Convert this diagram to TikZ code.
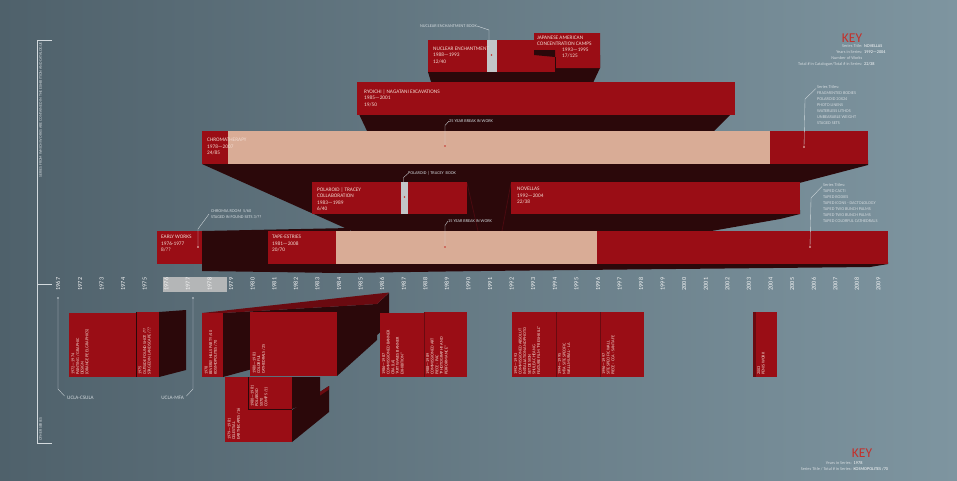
\documentclass[tikz,border=0pt]{standalone}
\usepackage{fontspec}
\setmainfont{Carlito}
\definecolor{bgL}{HTML}{4F616B}
\definecolor{bgR}{HTML}{7E95A0}
\definecolor{barred}{HTML}{9A0D15}
\definecolor{dk}{HTML}{2B080A}
\definecolor{raydk}{HTML}{4A0A10}
\definecolor{pinkb}{HTML}{D9AC96}
\definecolor{midred}{HTML}{6A0A10}
\definecolor{lbl}{HTML}{D3DADE}
\definecolor{btxt}{HTML}{F2DCD2}
\definecolor{keyred}{HTML}{C4302B}
\definecolor{strip}{HTML}{C3C6C8}
\definecolor{yrbox}{HTML}{B4B6B7}
\tikzset{
 bartxt/.style={font=\fontsize{5.3}{6.5}\selectfont, text=btxt, align=left, anchor=north west, inner sep=0pt},
 note/.style={font=\fontsize{4.3}{6}\selectfont, text=lbl, align=left, anchor=west, inner sep=0pt},
 notenw/.style={font=\fontsize{4.3}{6}\selectfont, text=lbl, align=left, anchor=north west, inner sep=0pt},
 vtxt/.style={font=\fontsize{4.3}{4.6}\selectfont, text=btxt, align=left, rotate=90, anchor=north west, inner sep=0pt},
 yr/.style={font=\fontsize{6.2}{6.2}\selectfont, text=white!92!gray, rotate=90, inner sep=0pt},
 lead/.style={draw=lbl, line width=0.35pt},
 dotm/.style={fill=#1, circle, inner sep=0pt, minimum size=1.7pt},
 keylab/.style={font=\fontsize{4.3}{6}\selectfont, text=lbl, anchor=east, inner sep=0pt},
 keyval/.style={font=\fontsize{4.3}{6}\selectfont, text=white, anchor=west, inner sep=0pt},
}
\begin{document}
\begin{tikzpicture}[x=1pt,y=-1pt]
\useasboundingbox (0,0) rectangle (957,480);
\shade[left color=bgL,right color=bgR] (0,0) rectangle (957,480);

% ---------------- upper section ----------------
% nuclear / japanese extrusion
\fill[dk] (428,60) -- (600,55) -- (600,68) -- (592,85) -- (432,85) -- (428,72) -- cycle;
\fill[barred] (428,40) rectangle (555,72);
\fill[strip] (487,40) rectangle (497,72);
\fill[barred] (534,33) -- (600,33) -- (600,68) -- (555,68) -- (555,50) -- (534,50) -- cycle;
\fill[dk] (534,50) -- (555,50) -- (555,57) -- (534,55) -- cycle;
\draw[dk, line width=0.4pt] (555,57) -- (555,72);
\node[bartxt] (ne) at (433,46.5) {NUCLEAR ENCHANTMENT\\1988—1993\\12/40};
\node[bartxt] (ja1) at (537,35.5) {JAPANESE AMERICAN\\CONCENTRATION CAMPS};
\node[bartxt] (ja2) at (562,47.5) {1993—1995\\17/125};
\node[dotm=keyred] (nedot) at (491.5,55) {};
\node[note] (nebook) at (420,26) {NUCLEAR ENCHANTMENT BOOK};
\coordinate (nes) at (489,40);
\draw[lead] (nebook.east) -- (489,30) -- (nes);

% Ryoichi
\fill[dk] (357,110) -- (735,110) -- (712,133) -- (368,133) -- cycle;
\fill[barred] (357,82) rectangle (735,115);
\node[bartxt] (ry) at (364,89) {RYOICHI | NAGATANI EXCAVATIONS\\1985—2001\\19/50};

% Chromatherapy extrusion and Novellas extrusion
\fill[dk] (202,160) -- (868,160) -- (868,165) -- (780,188) -- (700,232) -- (354,232) -- (202,164) -- cycle;
\fill[dk] (511,210) -- (800,210) -- (800,214) -- (780,219) -- (700,233) -- (520,233) -- cycle;
\draw[raydk, line width=0.8pt] (467,183) -- (478,231);
\draw[raydk, line width=0.8pt] (511,183) -- (502,231);
% Chromatherapy front
\fill[barred] (202,131) rectangle (228,164);
\fill[pinkb] (228,131) rectangle (770,164);
\fill[barred] (770,131) rectangle (868,164);
\node[bartxt] (ch) at (207,138) {CHROMATHERAPY\\1978—2007\\24/85};
\node[dotm=keyred] (dot25) at (445,146) {};
\node[note] (br25) at (449,121) {25 YEAR BREAK IN WORK};
\draw[lead] (br25.west) -- (445,125.5) -- (dot25);

% Polaroid | Tracey
\fill[barred] (312,182) rectangle (467,214);
\fill[strip] (401,182) rectangle (408,214);
\node[dotm=keyred] (pdot) at (404.5,197) {};
\node[bartxt] (po) at (317,187) {POLAROID | TRACEY\\COLLABORATION\\1983—1989\\6/40};
\node[note] (pbook) at (408,173.5) {POLAROID | TRACEY\ \ BOOK};
\coordinate (pst) at (403.5,182);
\draw[lead] (pbook.west) -- (403.5,177.5) -- (pst);

% Novellas
\fill[barred] (511,182) rectangle (800,214);
\node[bartxt] (no) at (517,187) {NOVELLAS\\1992—2004\\22/38};

% Early works + tape-estries extrusions
\fill[dk] (202,231) -- (350,228) -- (350,271) -- (202,268) -- cycle;
\fill[dk] (202,262) -- (888,262) -- (888,264) -- (870,267) -- (480,271) -- (340,273) -- (202,271) -- cycle;
\fill[barred] (157,231) rectangle (202,264);
\fill[barred] (268,231) rectangle (336,264);
\fill[pinkb] (336,231) rectangle (597,264);
\fill[barred] (597,231) rectangle (888,264);
\node[bartxt] (ew) at (161,235) {EARLY WORKS\\1976-1977\\8/??};
\node[bartxt] (te) at (272,235) {TAPE-ESTRIES\\1981—2008\\20/70};
\node[dotm=btxt] (ewdot) at (198,247) {};
\node[notenw] (chroom) at (211,209.5) {CHROMIA ROOM\ \ 5/60\\STAGED IN FOUND SETS 3/??};
\draw[lead] (ewdot) -- (198,229) -- (209,214);
\node[dotm=keyred] (dot15) at (445,247) {};
\node[note] (br15) at (448,221) {15 YEAR BREAK IN WORK};
\draw[lead] (br15.west) -- (445,225.5) -- (dot15);

% right side series titles
\node[dotm=btxt] (sd1) at (804,147) {};
\node[notenw] (st1) at (817,85) {Series Titles:\\FRAGMENTED BODIES\\POLAROID 20X24\\PHOTO LINENS\\WATERLESS LITHOS\\UNBEARABLE WEIGHT\\STAGED SETS};
\draw[lead] (816,88.5) -- (805,99) -- (sd1);
\node[dotm=btxt] (sd2) at (810,247) {};
\node[notenw] (st2) at (823,183) {Series Titles:\\TAPED CACTI\\TAPED BODIES\\TAPED ICONS - DACTOLOLOGY\\TAPED TWO BUNCH PALMS\\TAPED TWO BUNCH PALMS\\TAPED COLORFUL CATHEDRALS};
\draw[lead] (822,186.5) -- (811,198) -- (sd2);

% top key
\node[font=\fontsize{13.5}{13.5}\selectfont, text=keyred, inner sep=0pt] (key1) at (852,38) {KEY};
\node[keylab] (k1a) at (862.5,46) {Series Title:};
\node[keyval] (k1b) at (864,46) {NOVELLAS};
\node[keylab] (k2a) at (862.5,52) {Years in Series:};
\node[keyval] (k2b) at (864,52) {1992—2004};
\node[keylab] (k3a) at (862.5,58) {Number of Works};
\node[keylab] (k4a) at (862.5,64) {Total \# in Catalogue/Total \# in Series:};
\node[keyval] (k4b) at (864,64) {22/38};

% ---------------- axis ----------------
\fill[yrbox] (163,277) rectangle (227,292);
\node[yr] (y1967) at (58,284) {1967};
\foreach \yy in {1972,...,2009}{
  \pgfmathsetmacro\xx{80+(\yy-1972)*21.58}
  \node[yr] (y\yy) at (\xx,284) {\yy};
}
% left brackets
\draw[lead] (52,40) -- (37,40) -- (37,443) -- (52,443);
\draw[lead] (37,284) -- (52,284);
\node[font=\fontsize{4}{4}\selectfont, text=lbl, rotate=90, anchor=east, inner sep=0pt] (sertxt) at (40.5,42) {SERIES FROM WHICH WORKS ARE CONTAINED IN THE EXHIBITION AND CATALOGUE};
\node[font=\fontsize{4}{4}\selectfont, text=lbl, rotate=90, anchor=west, inner sep=0pt] (othtxt) at (40.5,441) {OTHER SERIES};

% UCLA brackets
\node[dotm=lbl] (d67) at (58,298) {};
\node[font=\fontsize{5.2}{5.2}\selectfont, text=lbl, anchor=west, inner sep=0pt] (ucla1) at (67,398) {UCLA-CSULA};
\draw[lead] (d67) -- (58,389) -- (64.5,396);
\node[dotm=lbl] (d77) at (193,298) {};
\node[font=\fontsize{5.2}{5.2}\selectfont, text=lbl, anchor=east, inner sep=0pt] (ucla2) at (184,398) {UCLA-MFA};
\draw[lead] (d77) -- (193,389) -- (186.5,396);

% ---------------- lower section ----------------
% A and B
\fill[barred] (69,313) rectangle (136,377);
\fill[dk] (159,312) -- (186,310) -- (186,370) -- (159,377) -- cycle;
\fill[barred] (136,312) rectangle (159,377);
\draw[dk, line width=0.6pt] (136,312) -- (136,377);
\node[vtxt] (ta) at (71.5,375) {1972—1974\\PAINTING / GRAPHIC\\DESIGN\\(ORANGE PEEL GRAPHICS)};
\node[vtxt] (tb) at (138.5,375) {1975\\OUTSIDE FOUND SHOT /??\\STAGED IN LANDSCAPE /??};

% Beverly / Colorful
\fill[dk] (223,313) -- (377,304) -- (389,293) -- (389,325) -- (377,335) -- (223,377) -- cycle;
\fill[midred] (202,313) -- (389,292.5) -- (377,304) -- (223,313) -- cycle;
\fill[dk] (337,312) -- (377,305) -- (377,340) -- (337,376) -- cycle;
\fill[barred] (202,313) rectangle (223,377);
\fill[barred] (250,312) rectangle (337,376);
\node[vtxt] (tc) at (204.5,375) {1978\\BEVERLY HILLS PARTY /40\\KOSMOPOLITES /70};
\node[vtxt] (td) at (252.5,374) {1980—1983\\COLORFUL\\CATHEDRALS /25};

% Celestial / SX70
\fill[dk] (292,377) -- (320,377) -- (320,398) -- (292,409) -- cycle;
\fill[dk] (292,410) -- (329,386) -- (329,412) -- (292,442) -- cycle;
\fill[midred] (320,392) -- (329,386) -- (329,389.5) -- (320,395.5) -- cycle;
\fill[barred] (225,377) rectangle (292,442);
\fill[barred] (248,377) rectangle (292,409);
\draw[dk, line width=0.6pt] (248,377) -- (248,409) -- (292,409);
\node[vtxt] (tf) at (227.5,440) {1979—1981\\CELESTIAL\\EARTHSCAPES /16};
\node[vtxt] (te2) at (250.5,407) {1980—1981\\POLAROID\\SX70\\COMPS /11};

% 1986 - 1997 boxes
\fill[barred] (380,313) rectangle (424,377);
\fill[barred] (424,312) rectangle (467,377);
\draw[midred, line width=0.5pt] (424,312) -- (424,377);
\node[vtxt] (tg) at (382,375) {1986—1987\\COMMISSIONED BANNER\\CRA (LA)\\“ART WAVES BANNER\\EXHIBITION”};
\node[vtxt] (th) at (426,375) {1988—1989\\COMMISSIONED ART\\PIECE - PAC\\“PHOTOGRAPHY AND\\PERFORMANCE”};
\fill[barred] (512,312) rectangle (644,377);
\draw[midred, line width=0.5pt] (556,312) -- (556,377);
\draw[midred, line width=0.5pt] (600,312) -- (600,377);
\node[vtxt] (ti) at (514,375) {1992—1993\\COMMISSIONED ABSOLUT\\INSTALLATION AND PHOTO\\SET DESIGN\\SHULEA CHEANG\\FEATURE FILM “FRESH KILL”};
\node[vtxt] (tj) at (558,375) {1994—1995\\MTA SITE SPECIFIC\\WALL MURAL - LA};
\node[vtxt] (tk) at (602,375) {1996—1997\\SITE SPECIFIC WALL\\PIECE - CCA - SANTA FE};
\fill[barred] (753,312) rectangle (777,377);
\fill[midred] (753,312) rectangle (755.5,377);
\node[vtxt] (tl) at (757,375) {2003\\PENIS WORK};

% bottom key
\node[font=\fontsize{13.5}{13.5}\selectfont, text=keyred, inner sep=0pt] (key2) at (862,453) {KEY};
\node[keylab] (b1a) at (852,463) {Years in Series:};
\node[keyval] (b1b) at (853.5,463) {1978};
\node[keylab] (b2a) at (852,469) {Series Title / Total \# in Series:};
\node[keyval] (b2b) at (853.5,469) {KOSMOPOLITES /70};
\end{tikzpicture}
\end{document}
